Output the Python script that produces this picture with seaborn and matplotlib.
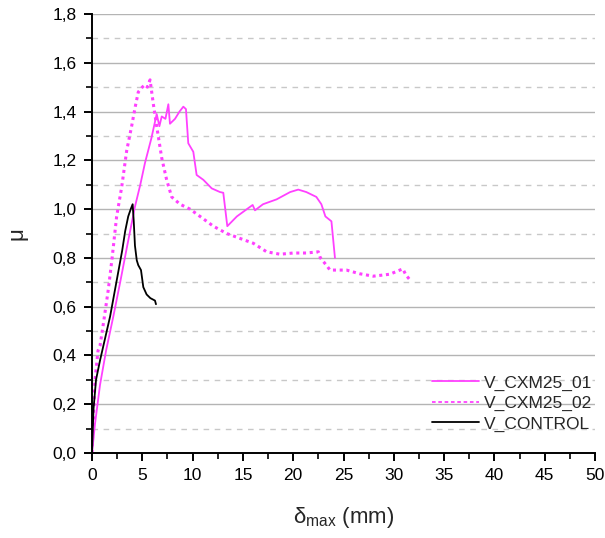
import matplotlib
matplotlib.use("Agg")
import matplotlib.pyplot as plt
import matplotlib.ticker as mticker
import seaborn as sns

# ── DATA ──────────────────────────────────────────────────────────────────────
cxm01_x = [0, 0.3, 0.8, 1.4, 2.12, 2.8, 3.5, 4.27, 4.8, 5.27, 5.9, 6.43, 6.7, 6.93,
           7.3, 7.59, 7.75, 8.25, 8.7, 9.08, 9.34, 9.57, 10.07, 10.4, 11.07, 11.9,
           12.72, 13.05, 13.45, 14.4, 15.4, 15.97, 16.2, 17.0, 18.35, 19.7, 20.5,
           21.3, 22.3, 22.8, 23.2, 23.8, 24.15]
cxm01_y = [0, 0.12, 0.28, 0.42, 0.56, 0.7, 0.85, 1.01, 1.1, 1.19, 1.29, 1.39, 1.34, 1.38,
           1.37, 1.43, 1.35, 1.37, 1.40, 1.42, 1.41, 1.27, 1.235, 1.14, 1.12, 1.085,
           1.07, 1.067, 0.93, 0.97, 1.0, 1.017, 0.995, 1.02, 1.04, 1.07, 1.08,
           1.07, 1.05, 1.02, 0.97, 0.95, 0.80]

cxm02_x = [0, 0.3, 0.6, 0.8, 1.2, 1.62, 2.0, 2.45, 2.95, 3.45, 3.94, 4.3, 4.6, 5.0,
           5.27, 5.5, 5.77, 6.1, 6.43, 6.93, 7.42, 7.92, 8.75, 9.74, 10.74, 12.06,
           13.39, 14.7, 16.03, 17.36, 18.69, 20.0, 21.3, 22.5, 22.7, 23.3, 23.66,
           25.3, 26.6, 27.96, 29.6, 30.9, 31.2, 31.6]
cxm02_y = [0, 0.3, 0.42, 0.44, 0.55, 0.67, 0.8, 0.97, 1.09, 1.24, 1.34, 1.42, 1.48, 1.5,
           1.51, 1.5, 1.53, 1.43, 1.34, 1.21, 1.12, 1.05, 1.02, 1.0, 0.97, 0.93,
           0.90, 0.88, 0.86, 0.825, 0.815, 0.82, 0.82, 0.825, 0.80, 0.77, 0.75,
           0.75, 0.735, 0.725, 0.733, 0.755, 0.73, 0.71]

ctrl_x = [0, 0.15, 0.4, 0.8, 1.3, 1.8, 2.2, 2.6, 3.0, 3.3, 3.6, 3.85, 4.04, 4.15,
          4.27, 4.45, 4.6, 4.87, 5.1, 5.43, 5.8, 6.26, 6.36]
ctrl_y = [0, 0.18, 0.3, 0.38, 0.47, 0.56, 0.65, 0.74, 0.83, 0.91, 0.97, 1.0, 1.02, 0.95,
          0.85, 0.79, 0.77, 0.75, 0.68, 0.65, 0.635, 0.625, 0.61]

LABELS = ["V_CXM25_01", "V_CXM25_02", "V_CONTROL"]

# ── STYLE ─────────────────────────────────────────────────────────────────────
sns.set_theme(style="ticks")
plt.rcParams["font.family"] = ["Liberation Sans", "DejaVu Sans"]
plt.rcParams["mathtext.fontset"] = "custom"
plt.rcParams["mathtext.rm"] = "Liberation Sans"
plt.rcParams["mathtext.it"] = "Liberation Sans"
MAGENTA = "#ff40ff"

fig = plt.figure(figsize=(6.05, 5.38), dpi=100)
ax = fig.add_axes([92 / 605, 85 / 538, 503 / 605, 439 / 538])

sns.lineplot(x=cxm01_x, y=cxm01_y, sort=False, estimator=None, ax=ax,
             color=MAGENTA, lw=1.3, label=LABELS[0])
sns.lineplot(x=cxm02_x, y=cxm02_y, sort=False, estimator=None, ax=ax,
             color=MAGENTA, lw=2.2, linestyle=(0, (1.0, 1.2)), label=LABELS[1])
sns.lineplot(x=ctrl_x, y=ctrl_y, sort=False, estimator=None, ax=ax,
             color="black", lw=1.3, label=LABELS[2])

ax.set_xlim(0, 50)
ax.set_ylim(0, 1.8)
ax.xaxis.set_major_locator(mticker.MultipleLocator(5))
ax.xaxis.set_minor_locator(mticker.MultipleLocator(2.5))
ax.yaxis.set_major_locator(mticker.MultipleLocator(0.2))
ax.yaxis.set_minor_locator(mticker.MultipleLocator(0.1))
ax.yaxis.set_major_formatter(mticker.FuncFormatter(lambda v, p: f"{v:.1f}".replace(".", ",")))

ax.grid(axis="y", which="major", color="#b4b4b4", lw=1.0, ls="-")
ax.grid(axis="y", which="minor", color="#c8c8c8", lw=1.0, ls=(0, (4, 4)))
ax.set_axisbelow(True)

for side in ["top", "right"]:
    ax.spines[side].set_visible(False)
for side in ["left", "bottom"]:
    ax.spines[side].set_linewidth(1.4)
    ax.spines[side].set_color("black")
ax.tick_params(which="major", direction="out", length=6, width=1.4, labelsize=12.5,
               colors="black", pad=5)
ax.tick_params(which="minor", direction="out", length=4, width=1.2, colors="black")

ax.set_xlabel(r"$\mathregular{\delta_{max}}$ (mm)", fontsize=16, labelpad=16)
ax.set_ylabel("μ", fontsize=16, labelpad=18)

leg = ax.legend(loc="lower right", bbox_to_anchor=(1.015, 0.025), frameon=False,
                fontsize=12.5, handlelength=2.7, labelspacing=0.3, handletextpad=0.3,
                borderaxespad=0.2)
leg.get_lines()[1].set_linewidth(1.3)
leg.get_lines()[1].set_linestyle((0, (2, 1.5)))

plt.savefig("out.png", dpi=100)
plt.close()
